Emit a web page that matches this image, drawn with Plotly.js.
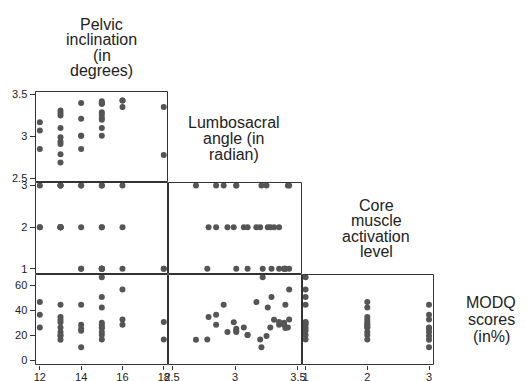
<!DOCTYPE html>
<html>
<head>
<meta charset="utf-8">
<script src="https://cdn.plot.ly/plotly-3.0.1.min.js"></script>
<style>html,body{margin:0;padding:0;background:#fff;}#chart{width:526px;height:381px;}</style>
</head>
<body>
<div id="chart"></div>
<script>
// One row per subject
var pelvic = [12,12,12, 13,13,13,13,13,13,13,13,13, 14,14,14,14,14, 15,15,15,15,15,15,15,15,15,15, 16,16,16, 18,18];
var lumbo  = [3.17,3.07,2.85, 2.69,2.79,2.91,2.94,2.99,3.10,3.25,3.28,3.31, 2.85,3.21,3.01,3.01,3.40, 3.22,3.29,3.26,3.20,3.10,3.01,3.39,3.42,3.39,3.40, 3.43,3.43,3.35, 3.35,2.78];
var core   = [2,2,3, 3,2,3,2,2,2,3,2,2, 2,3,3,1,1, 1,1,2,2,1,3,1,3,1,1, 1,3,2, 1,1];
var modq   = [46.7,26.4,36.5, 16.5,34.7,44.5,22.7,30.5,20.3,19.5,26.4,32.5, 28.5,10.5,25.3,23.7,44.5, 66.7,50.7,42.4,16.8,20.3,22.7,30.1,26.4,28.5,26.0, 56.8,32.8,28.5, 30.7,16.8];

var varLabels = [
  ["Pelvic", "inclination", "(in", "degrees)"],
  ["Lumbosacral", "angle (in", "radian)"],
  ["Core", "muscle", "activation", "level"],
  ["MODQ", "scores", "(in%)"]
];
var pelvicTicks = [12, 14, 16, 18];
var lumboTicks = [2.5, 3, 3.5];
var coreTicks = [1, 2, 3];
var modqTicks = [0, 20, 40, 60];

var W = 526, H = 381;
function fx(px) { return px / W; }
function fy(py) { return 1 - py / H; }

// panel geometry (pixels)
var cols = [[35.5, 167.5], [168.5, 301.5], [302.5, 433.5]];
var rows = [[91.5, 181.5], [182.5, 273.5], [274.5, 364.5]];

var data = {pelvic: pelvic, lumbo: lumbo, core: core, modq: modq};
var pairs = [
  ['pelvic', 'lumbo', 'x', 'y'],
  ['pelvic', 'core', 'x', 'y2'],
  ['lumbo', 'core', 'x2', 'y2'],
  ['pelvic', 'modq', 'x', 'y3'],
  ['lumbo', 'modq', 'x2', 'y3'],
  ['core', 'modq', 'x3', 'y3']
];
var traces = pairs.map(function (p) {
  return {
    type: 'scatter', mode: 'markers',
    x: data[p[0]], y: data[p[1]], xaxis: p[2], yaxis: p[3],
    marker: {color: '#555555', size: 6, line: {width: 0}},
    hoverinfo: 'skip', showlegend: false, cliponaxis: false
  };
});

function axis(dom, range, ticks, anchor, isX) {
  var a = {
    domain: dom, range: range, anchor: anchor,
    tickmode: 'array', tickvals: ticks, ticktext: ticks.map(String),
    ticks: 'outside', ticklen: isX ? 4 : 5, tickwidth: 1, tickcolor: '#333',
    tickfont: {size: 11, color: '#222'},
    showgrid: false, zeroline: false, showline: false, fixedrange: true
  };
  if (isX) a.ticklabelstandoff = -2;
  return a;
}

var layout = {
  width: W, height: H,
  margin: {l: 0, r: 0, t: 0, b: 0, pad: 0},
  paper_bgcolor: '#fff', plot_bgcolor: 'rgba(0,0,0,0)',
  font: {family: 'Liberation Sans, Arial, sans-serif', color: '#222'},
  showlegend: false,
  xaxis:  axis([fx(cols[0][0]), fx(cols[0][1])], [11.79, 18.18], pelvicTicks, 'y3', true),
  xaxis2: axis([fx(cols[1][0]), fx(cols[1][1])], [2.472, 3.528], lumboTicks, 'y3', true),
  xaxis3: axis([fx(cols[2][0]), fx(cols[2][1])], [0.95, 3.073], coreTicks, 'y3', true),
  yaxis:  axis([fy(rows[0][1]), fy(rows[0][0])], [2.464, 3.536], lumboTicks, 'x', false),
  yaxis2: axis([fy(rows[1][1]), fy(rows[1][0])], [0.887, 3.072], coreTicks, 'x', false),
  yaxis3: axis([fy(rows[2][1]), fy(rows[2][0])], [-3.2, 68.8], modqTicks, 'x', false),
  shapes: [],
  annotations: []
};

var panels = [[0,0],[1,0],[1,1],[2,0],[2,1],[2,2]];
panels.forEach(function (rc) {
  var r = rows[rc[0]], c = cols[rc[1]];
  layout.shapes.push({
    type: 'rect', xref: 'paper', yref: 'paper',
    x0: fx(c[0]), x1: fx(c[1]), y0: fy(r[1]), y1: fy(r[0]),
    line: {color: '#333', width: 1}, fillcolor: 'rgba(0,0,0,0)'
  });
});

var labelPos = [
  {x: 101.5, ys: [23, 38.5, 54, 69.5]},
  {x: 234, ys: [121.7, 137.5, 153.3]},
  {x: 376, ys: [204.3, 219.5, 235, 250.3]},
  {x: 491, ys: [301.7, 318.3, 335]}
];
varLabels.forEach(function (lines, i) {
  lines.forEach(function (t, j) {
    layout.annotations.push({
      xref: 'paper', yref: 'paper', x: fx(labelPos[i].x), y: fy(labelPos[i].ys[j] + 1),
      xanchor: 'center', yanchor: 'middle', showarrow: false,
      text: t, font: {size: 16, color: '#222'}
    });
  });
});

Plotly.newPlot('chart', traces, layout, {displayModeBar: false, staticPlot: true});
</script>
</body>
</html>
